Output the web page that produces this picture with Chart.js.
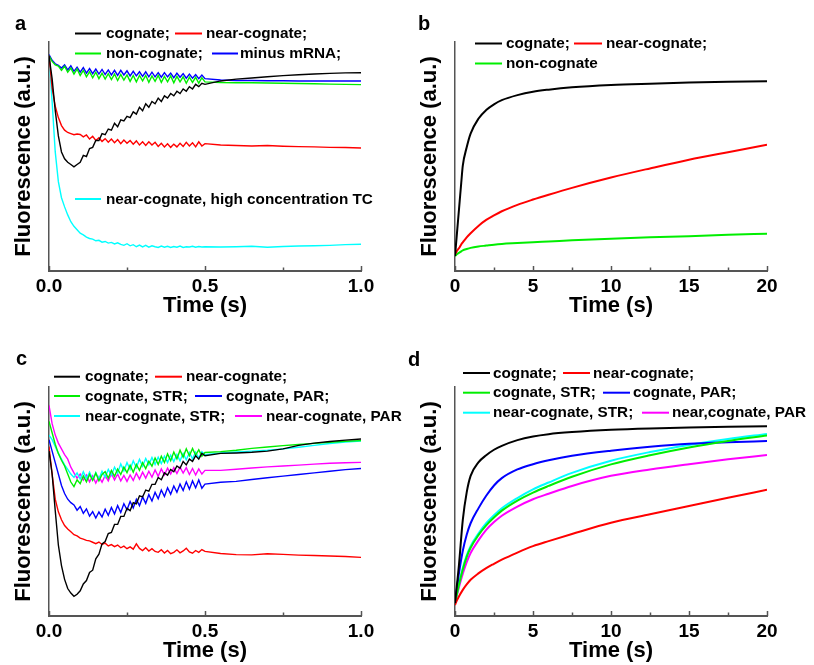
<!DOCTYPE html>
<html>
<head>
<meta charset="utf-8">
<script src="https://cdn.jsdelivr.net/npm/chart.js@4.4.1/dist/chart.umd.min.js"></script>
<style>
  html, body { margin: 0; padding: 0; background: #fff; }
  #wrap { position: relative; width: 814px; height: 665px; overflow: hidden; }
  canvas { position: absolute; }
</style>
</head>
<body>
<div id="wrap">
  <canvas id="ca" width="406" height="320" style="left:0px;top:0px"></canvas>
  <canvas id="cb" width="406" height="320" style="left:406px;top:0px"></canvas>
  <canvas id="cc" width="406" height="320" style="left:0px;top:345px"></canvas>
  <canvas id="cd" width="406" height="320" style="left:406px;top:345px"></canvas>
</div>
<script>
// ---------- DATA ----------
// Time axes (s)
const timeFast = [0,0.01,0.02,0.03,0.04,0.05,0.06,0.07,0.08,0.09,0.10,0.11,0.12,0.13,0.14,0.15,0.16,0.17,0.18,0.19,0.20,0.21,0.22,0.23,0.24,0.25,0.26,0.27,0.28,0.29,0.30,0.31,0.32,0.33,0.34,0.35,0.36,0.37,0.38,0.39,0.40,0.41,0.42,0.43,0.44,0.45,0.46,0.47,0.48,0.49,0.50,0.55,0.60,0.65,0.70,0.75,0.80,0.85,0.90,0.95,1.00];
const timeSlowB = [0,0.1,0.2,0.3,0.4,0.5,0.75,1,1.5,2,2.5,3,4,5,6,7.5,10,12.5,15,17.5,20];
const timeSlowD = [0,0.1,0.25,0.5,0.75,1,1.5,2,2.5,3,4,5,6,7.5,10,12.5,15,17.5,20];

// Panel a (fluorescence, a.u.)
const aCognate = [94,84,70,59,52,49,47.5,46.5,45.5,46.5,47.5,50.5,50,53.5,54,57,57,60,59.5,62,61.5,64.5,63,66,65.5,67.5,67,69.5,68.5,71.5,70,73,71.5,74,73,75.5,74,76.5,75.5,77.5,76.5,78.5,77.5,79.5,78.5,80.5,79.5,81.5,80.5,82,81.5,83,83.8,84.3,84.8,85.3,85.7,86,86.3,86.5,86.6];
const aNear = [94,80,72,67,63.5,61.5,60.5,60,59.5,59.8,59.6,58.6,59.4,57.6,58.8,57,58.2,56.6,57.8,56.2,57.6,56,57.4,55.6,57.2,55.8,57,55.4,56.8,55,56.4,54.8,56.4,55,56.2,54.4,55.8,54.2,55.6,54,55.4,54.2,55.8,54.4,56.2,54.6,56,54.2,56.4,54.6,55.6,55,54.8,54.6,54.8,54.5,54.3,54.2,54,53.9,53.7];
const aNon = [94,91.5,90,89.5,87.6,89.4,86.8,88.6,86,88.2,85.4,87.6,84.8,87,84.4,86.8,84,86.4,83.8,86.2,83.6,86,83.2,85.8,83.4,85.6,82.8,85.4,82.6,85.4,83,85.4,82.4,85.2,82.8,85.4,82.4,85,82.6,85.2,82.2,85,82.6,84.8,82,84.6,82.4,84.6,82,84.4,82.6,82.3,82.2,82.2,82.1,82,81.9,81.8,81.6,81.5,81.4];
const aMinus = [94.5,92,90.5,89.8,88.6,90,87.8,89.6,87.2,89,86.8,88.8,86.4,88.4,86.2,88.2,86,88,85.8,87.8,85.6,87.6,85.4,87.6,85.6,87.4,85.2,87.2,85.2,87,85,87,84.8,86.8,84.8,86.6,84.6,86.6,84.8,86.4,84.4,86.4,84.6,86.2,84.2,86,84.2,85.8,84,85.6,84,83.4,83.2,83.2,83.1,83.1,83,83,83,83,83];
const aHigh = [94,74,52,39,32,28,24.5,21.5,19.5,18,16.5,15.8,14.8,14.2,13.9,13.2,13.4,12.6,12.9,12.2,12.5,11.8,12.3,11.6,11.2,11.9,11,11.5,10.6,11.3,10.5,11.2,10.4,11,10.6,10.3,10.9,10.4,10.8,10.3,10.7,10.4,10.9,10.3,10.6,10.5,10.8,10.4,10.7,10.5,10.6,10.5,10.6,10.8,10.4,10.7,10.9,11,11.2,11.5,11.7];

// Panel b
const bCognate = [6.5,14.5,22.5,30.5,38.5,46,54,60,66.5,70.3,72.8,74.6,76.8,78.3,79.2,80.2,81.2,81.8,82.3,82.6,82.9];
const bNear = [7.3,8.5,9.5,10.4,11.6,12.5,14.7,16.5,19.7,22.3,24.3,26.1,28.9,31.2,33.3,36.3,40.8,44.8,48.6,51.9,55.1];
const bNon = [6.5,7.2,7.7,8.1,8.6,9,9.6,10.1,10.7,11.1,11.5,11.8,12.2,12.6,12.9,13.4,14.1,14.7,15.2,15.8,16.3];

// Panel c
const cCognate = [72,62,46,31,22,16,12,10,8.6,9.5,11,14,15.5,19,20,25,27,31.5,32.5,36,36.5,40,40,43.5,43.5,47,46,49.5,49,52.5,52,55,54.5,57.5,57.5,60.5,59.5,62.5,61.5,64,63,65.5,64.5,67.5,66,68.5,67.5,70,68.5,71,70,71,71.2,71.5,72,73,74.5,75.5,76.2,76.8,77.3];
const cNear = [74,62,51,45.5,42,39.5,38,36.8,35.5,35,34,33.6,33,32.8,32.2,31.6,32.3,31.2,31.8,30.6,31.2,30.3,31,29.8,30.5,29.4,30.2,29.2,31.5,29.5,28.6,29.8,28.4,29.4,28.2,27.8,28.9,27.5,28.6,27.2,27.8,28.9,27.6,28.4,29.6,28,27.4,28.6,27.8,29,28.2,27.3,26.8,26.7,27.2,26.9,26.6,26.4,26.2,26,25.6];
const cCogSTR = [85,80,75,71,68,65.5,62,58.5,56.5,59.5,57.8,61.2,58.6,61.8,59.2,62.4,59,61.8,63,60.2,63.6,61,64.2,61.8,65,62.6,65.8,62.8,66.2,63.6,67,64.4,67.6,65.4,69,66.2,69.8,67,70.8,67.8,71.6,68.6,72.4,69.4,73,70,73.2,70.2,72.6,69.8,71.4,71.8,72.4,73.2,73.8,74.4,74.9,75.4,75.9,76.3,76.6];
const cCogPAR = [77,72,67,62,57,53.5,51,49.5,48.5,46.2,47.8,44.8,46.8,43.6,45.6,42.8,45.4,43.2,46.6,44,47.4,44.6,48.2,45.2,49,46.4,50,47.2,51,48.2,52,49.2,53,50.2,54,51.2,55,52.2,56,53.2,56.8,54,57.6,54.8,58.6,55.4,59,56,59.4,55.8,57.6,58.4,58.8,59.6,60.4,61.1,61.8,62.5,63.2,63.9,64.4];
const cNearSTR = [79,77,74,71,68.5,66,64,62,60.5,62.5,59.8,63,60,62.8,59.6,62.6,59.8,63.2,60.6,64,61.4,65,62.4,66.4,63.4,67,64,67.8,64.8,68.4,65.4,68.8,66,69.2,66.2,69.4,66.6,69.8,67,70.2,67.4,70.6,67.8,71,68.2,71.4,68.6,71.6,69,71.8,70.4,71.2,71.6,72,72.4,73,73.7,74.5,75.3,76,76.4];
const cNearPAR = [92,84,79,75.5,73,70.5,68.5,65,62.5,60.2,62,59.4,61.6,58.6,61.2,58,60.8,58.4,61.4,59,62.2,59.4,62,59,61.4,58.8,61.6,59.2,62.4,59.8,62.8,60.2,63.2,60.6,63.8,61,64.2,61.6,64.6,62,64.8,62.2,65,62.4,64.8,61.8,64.4,61.6,64.2,62,63.6,63.6,64.1,64.6,65.1,65.5,65.9,66.3,66.7,66.9,67.1];

// Panel d
const dCognate = [5.6,12,22,42,54,61.2,67.1,70.2,72.6,74.3,76.8,78.4,79.4,80.3,81.3,81.9,82.3,82.6,82.9];
const dNear = [4.8,6.5,8.5,11.4,13.8,15.8,18.6,20.9,22.8,24.6,27.7,30.5,32.7,35.8,40.7,44.4,48,51.6,55.1];
const dCogSTR = [5.6,8.8,13.5,20.3,25.8,29.8,35.3,39.6,43,46,50.4,53.9,56.8,60.8,66.2,70.2,73.6,76.4,78.8];
const dCogPAR = [6.3,11,18.5,28.5,35.5,40.5,47,52.5,57,60.2,64,66.3,68,70,72.2,73.9,75.2,75.9,76.4];
const dNearSTR = [5.6,9,14,21,26.5,30.5,36,40.5,44,47,51.5,55.3,58.3,62.5,67.8,71.6,74.7,77.3,79.5];
const dNearPAR = [5.6,8.5,12.5,18.5,23.5,27.5,33,37.6,41,43.8,47.8,51,53.4,56.8,61.2,64,66.3,68.4,70.3];

// Tick values
const xTicksFast = [0, 0.5, 1.0];
const xTicksSlow = [0, 5, 10, 15, 20];

// ---------- RENDERING ----------
Chart.defaults.font.family = "'Liberation Sans', Arial, Helvetica, sans-serif";
Chart.defaults.color = '#000';

const COLORS = { black:'#000000', red:'#ff0000', green:'#00ee00', blue:'#0000ff', cyan:'#00ffff', magenta:'#ff00ff' };

function pts(xs, ys) { return xs.map((x, i) => ({ x: x, y: ys[i] })); }

const decor = {
  id: 'decor',
  afterDraw(chart, args, o) {
    const ctx = chart.ctx, xs = chart.scales.x;
    const yb = chart.scales.y.bottom;
    ctx.save();
    ctx.strokeStyle = '#555'; ctx.lineWidth = 1.5;
    const majors = o.majors, minors = [];
    for (let i = 0; i < majors.length - 1; i++) minors.push((majors[i] + majors[i+1]) / 2);
    majors.forEach(v => { const p = Math.round(xs.getPixelForValue(v)) + 0.5; ctx.beginPath(); ctx.moveTo(p, yb); ctx.lineTo(p, yb - 5); ctx.stroke(); });
    minors.forEach(v => { const p = Math.round(xs.getPixelForValue(v)) + 0.5; ctx.beginPath(); ctx.moveTo(p, yb); ctx.lineTo(p, yb - 3.5); ctx.stroke(); });
    ctx.fillStyle = '#000'; ctx.textAlign = 'left'; ctx.textBaseline = 'middle';
    ctx.font = "bold 20px 'Liberation Sans', Arial, sans-serif";
    ctx.fillText(o.panel[0], o.panel[1], o.panel[2]);
    ctx.font = "bold 15.3px 'Liberation Sans', Arial, sans-serif";
    o.legend.forEach(it => {
      const ds = chart.data.datasets[it[0]];
      ctx.strokeStyle = ds.borderColor; ctx.lineWidth = 2;
      ctx.beginPath(); ctx.moveTo(it[1], it[4]); ctx.lineTo(it[2], it[4]); ctx.stroke();
      ctx.fillStyle = '#000';
      ctx.fillText(ds.label, it[3], it[4] + 0.5);
    });
    ctx.restore();
  }
};

function makeChart(id, datasets, xMax, majors, fmt, smooth, decorOpts) {
  return new Chart(document.getElementById(id), {
    type: 'line',
    data: { datasets: datasets.map(d => ({
      label: d[0], data: d[1], borderColor: d[2], backgroundColor: d[2],
      borderWidth: smooth ? 2 : 1.4, pointRadius: 0, fill: false,
      tension: smooth ? 0.4 : 0, cubicInterpolationMode: smooth ? 'monotone' : 'default'
    })) },
    options: {
      responsive: false, animation: false, devicePixelRatio: 1,
      layout: { padding: { left: 0, right: 45, top: 42, bottom: 0 } },
      plugins: { legend: { display: false }, tooltip: { enabled: false }, decor: decorOpts },
      scales: {
        x: {
          type: 'linear', min: 0, max: xMax,
          afterFit: s => { s.height = 49; },
          afterBuildTicks: s => { s.ticks = majors.map(v => ({ value: v })); },
          grid: { display: false, drawTicks: false },
          border: { display: true, color: '#555', width: 2 },
          ticks: { padding: 4, maxRotation: 0, font: { size: 19, weight: 'bold' }, color: '#000', callback: fmt },
          title: { display: true, text: 'Time (s)', font: { size: 22, weight: 'bold' }, color: '#000', padding: { top: 0, bottom: 1 } }
        },
        y: {
          min: 0, max: 100,
          afterFit: s => { s.width = 49; },
          grid: { display: false, drawTicks: false },
          border: { display: true, color: '#555', width: 1.5 },
          ticks: { display: false },
          title: { display: true, text: 'Fluorescence (a.u.)', font: { size: 22, weight: 'bold' }, color: '#000', padding: { top: 11, bottom: 0 } }
        }
      }
    },
    plugins: [decor]
  });
}

const fmt1 = v => Number(v).toFixed(1);
const fmt0 = v => String(v);

makeChart('ca', [
  ['cognate;', pts(timeFast, aCognate), COLORS.black],
  ['near-cognate;', pts(timeFast, aNear), COLORS.red],
  ['non-cognate;', pts(timeFast, aNon), COLORS.green],
  ['minus mRNA;', pts(timeFast, aMinus), COLORS.blue],
  ['near-cognate, high concentration TC', pts(timeFast, aHigh), COLORS.cyan]
], 1, xTicksFast, fmt1, false, {
  majors: xTicksFast, panel: ['a', 15, 24],
  legend: [[0,75,101,106,33.5],[1,175,202,206,33.5],[2,75,101,106,53.5],[3,212,238,240,53.5],[4,75,101,106,199]]
});

makeChart('cb', [
  ['cognate;', pts(timeSlowB, bCognate), COLORS.black],
  ['near-cognate;', pts(timeSlowB, bNear), COLORS.red],
  ['non-cognate', pts(timeSlowB, bNon), COLORS.green]
], 20, xTicksSlow, fmt0, true, {
  majors: xTicksSlow, panel: ['b', 12, 24],
  legend: [[0,69,96,100,43.5],[1,168,196,200,43.5],[2,69,96,100,63.5]]
});

makeChart('cc', [
  ['cognate;', pts(timeFast, cCognate), COLORS.black],
  ['near-cognate;', pts(timeFast, cNear), COLORS.red],
  ['cognate, STR;', pts(timeFast, cCogSTR), COLORS.green],
  ['cognate, PAR;', pts(timeFast, cCogPAR), COLORS.blue],
  ['near-cognate, STR;', pts(timeFast, cNearSTR), COLORS.cyan],
  ['near-cognate, PAR', pts(timeFast, cNearPAR), COLORS.magenta]
], 1, xTicksFast, fmt1, false, {
  majors: xTicksFast, panel: ['c', 16, 14],
  legend: [[0,54,80,85,31.7],[1,155,182,186,31.7],[2,54,80,85,51],[3,195,222,226,51],[4,54,80,85,71],[5,235,262,266,71]]
});

makeChart('cd', [
  ['cognate;', pts(timeSlowD, dCognate), COLORS.black],
  ['near-cognate;', pts(timeSlowD, dNear), COLORS.red],
  ['cognate, STR;', pts(timeSlowD, dCogSTR), COLORS.green],
  ['cognate, PAR;', pts(timeSlowD, dCogPAR), COLORS.blue],
  ['near-cognate, STR;', pts(timeSlowD, dNearSTR), COLORS.cyan],
  ['near,cognate, PAR', pts(timeSlowD, dNearPAR), COLORS.magenta]
], 20, xTicksSlow, fmt0, true, {
  majors: xTicksSlow, panel: ['d', 2, 15],
  legend: [[0,57,84,87,28],[1,157,184,187,28],[2,57,84,87,47.7],[3,197,224,227,47.7],[4,57,84,87,67.7],[5,236,263,266,67.7]]
});
</script>
</body>
</html>
